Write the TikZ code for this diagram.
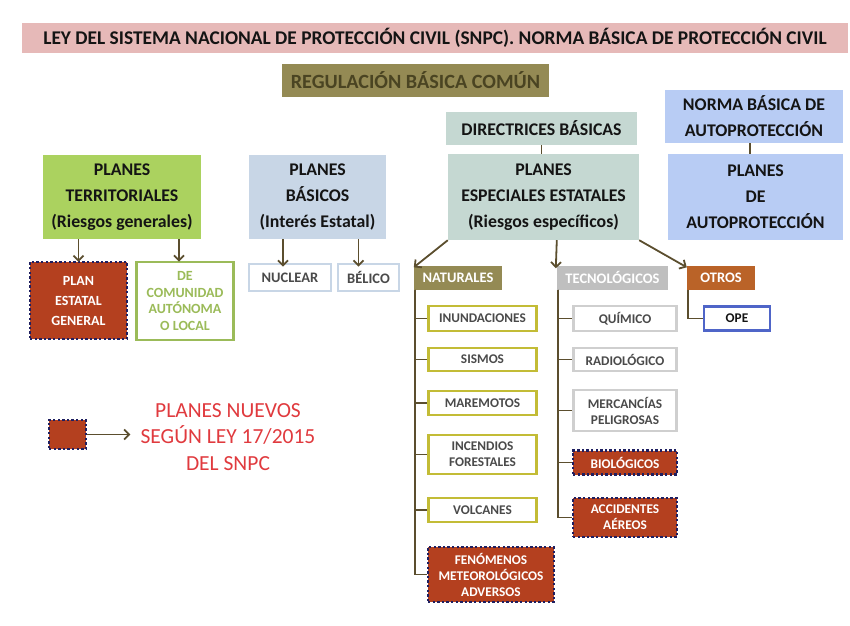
\documentclass[tikz,border=0pt]{standalone}
\usepackage{fontspec}
\setmainfont{Carlito}
\usetikzlibrary{arrows.meta}
\definecolor{titlefill}{HTML}{E6B9B8}
\definecolor{olivefill}{HTML}{948A54}
\definecolor{regtext}{HTML}{4A4422}
\definecolor{normafill}{HTML}{B8CCF4}
\definecolor{direcfill}{HTML}{C5D8D2}
\definecolor{terrfill}{HTML}{ABD25F}
\definecolor{basicfill}{HTML}{C8D6E6}
\definecolor{comgreen}{HTML}{9BBB59}
\definecolor{tecfill}{HTML}{BFBFBF}
\definecolor{otrosfill}{HTML}{BA6328}
\definecolor{natborder}{HTML}{C3BC36}
\definecolor{tecborder}{HTML}{CFCFCF}
\definecolor{opeborder}{HTML}{4F65C8}
\definecolor{linecol}{HTML}{5B4E2E}
\definecolor{newred}{HTML}{B4401F}
\definecolor{navydot}{HTML}{1F1F60}
\definecolor{legred}{HTML}{E03A3E}
\definecolor{darktext}{HTML}{141414}
\definecolor{greytext}{HTML}{4A4A4A}
\begin{document}
\begin{tikzpicture}[x=1pt,y=-1pt,
  box/.style={rectangle, inner sep=0pt, align=center},
  bigtext/.style={font=\fontsize{17.8}{26}\selectfont\bfseries, text=darktext},
  midtext/.style={font=\fontsize{14.5}{20}\selectfont\bfseries},
  smalltext/.style={font=\fontsize{13.3}{16}\selectfont\bfseries},
  newplan/.style={box, fill=newred, draw=navydot, line width=2.4pt,
     dash pattern=on 2.4pt off 2.2pt, text=white},
  natleaf/.style={box, fill=white, draw=natborder, line width=2.6pt,
     minimum width=108pt, text=greytext, smalltext},
  tecleaf/.style={box, fill=white, draw=tecborder, line width=2.6pt,
     minimum width=103pt, text=greytext, smalltext},
  arr/.style={draw=linecol, line width=1.8pt, -{Straight Barb[length=5pt,width=10pt]}},
  treeline/.style={draw=linecol, line width=1.8pt}
]
\useasboundingbox (0,0) rectangle (850,625);

% title and top
\node[box, fill=titlefill, minimum width=826pt, minimum height=30pt,
  font=\fontsize{19.4}{22}\selectfont\bfseries, text=darktext] (title) at (435,38)
  {LEY DEL SISTEMA NACIONAL DE PROTECCIÓN CIVIL (SNPC). NORMA BÁSICA DE PROTECCIÓN CIVIL};
\node[box, fill=olivefill, minimum width=267pt, minimum height=33pt,
  font=\fontsize{20.2}{22}\selectfont\bfseries, text=regtext] (reg) at (415.5,80.5)
  {REGULACIÓN BÁSICA COMÚN};

% right column
\node[box, fill=normafill, minimum width=178pt, minimum height=53pt, bigtext] (norma) at (754,116.5)
  {NORMA BÁSICA DE\\AUTOPROTECCIÓN};
\node[box, fill=normafill, minimum width=175pt, minimum height=86pt, bigtext] (autop) at (755.5,197)
  {PLANES\\DE\\AUTOPROTECCIÓN};
\draw[treeline] ([xshift=-4pt]norma.south) -- ([xshift=-4pt]norma.south |- autop.north);

% central column
\node[box, fill=direcfill, minimum width=191pt, minimum height=33pt, bigtext] (direc) at (541.5,128.5)
  {DIRECTRICES BÁSICAS};
\node[box, fill=direcfill, minimum width=191pt, minimum height=86pt, bigtext] (pee) at (543.5,197)
  {PLANES\\ESPECIALES ESTATALES\\(Riesgos específicos)};
\draw[treeline] (direc.south) -- (direc.south |- pee.north);

% left columns
\node[box, fill=terrfill, minimum width=158pt, minimum height=84pt, bigtext] (terr) at (122,197)
  {PLANES\\TERRITORIALES\\(Riesgos generales)};
\node[box, fill=basicfill, minimum width=137pt, minimum height=84pt, bigtext] (basic) at (317.5,197)
  {PLANES\\BÁSICOS\\(Interés Estatal)};

\node[newplan, minimum width=97pt, minimum height=77pt,
  font=\fontsize{14}{20}\selectfont\bfseries] (estatal) at (78.5,300.5)
  {PLAN\\ESTATAL\\GENERAL};
\node[box, fill=white, draw=comgreen, line width=2.8pt, minimum width=97pt, minimum height=78pt,
  font=\fontsize{14}{16.7}\selectfont\bfseries, text=comgreen] (comun) at (185,301)
  {DE\\COMUNIDAD\\AUTÓNOMA\\O LOCAL};
\node[box, fill=white, draw=basicfill, line width=2.8pt, minimum width=82pt, minimum height=27pt,
  midtext, text=greytext] (nuclear) at (290,277.5) {NUCLEAR};
\node[box, fill=white, draw=basicfill, line width=2.8pt, minimum width=61pt, minimum height=27pt,
  midtext, text=greytext] (belico) at (368.5,277.5) {BÉLICO};

\draw[arr] (terr.south -| estatal.north) -- ([yshift=-1pt]estatal.north);
\draw[arr] ([xshift=-6pt]terr.south -| comun.north) -- ([xshift=-6pt,yshift=-1pt]comun.north);
\draw[arr] ([xshift=-7pt]basic.south -| nuclear.north) -- ([xshift=-7pt,yshift=-4pt]nuclear.north);
\draw[arr] ([xshift=-10pt]basic.south -| belico.north) -- ([xshift=-10pt,yshift=-4pt]belico.north);

% categories
\node[box, fill=olivefill, minimum width=88pt, minimum height=24pt, midtext, text=white] (nat) at (458,277.5) {NATURALES};
\node[box, fill=tecfill, minimum width=111pt, minimum height=24pt, midtext, text=white] (tec) at (612.5,277.5) {TECNOLÓGICOS};
\node[box, fill=otrosfill, minimum width=68pt, minimum height=24pt, midtext, text=white] (otros) at (721,277.5) {OTROS};

\draw[arr] (pee.south west) -- ([yshift=-2pt]nat.north west);
\draw[arr] (pee.south -| tec.north west) -- ([xshift=-1pt,yshift=-3pt]tec.north west);
\draw[arr] (pee.south east) -- ([yshift=-2pt]otros.north west);

% natural leaves
\node[natleaf, minimum height=25pt] (inun) at (482.5,318.5) {INUNDACIONES};
\node[natleaf, minimum height=23pt] (sismos) at (482.5,359.5) {SISMOS};
\node[natleaf, minimum height=24pt] (mare) at (482.5,403) {MAREMOTOS};
\node[natleaf, minimum height=39pt] (incen) at (482.5,454.5) {INCENDIOS\\FORESTALES};
\node[natleaf, minimum height=24pt] (volc) at (482.5,510) {VOLCANES};
\node[newplan, minimum width=126pt, minimum height=55pt, smalltext] (fen) at (491,574.5)
  {FENÓMENOS\\METEOROLÓGICOS\\ADVERSOS};
\foreach \n in {inun,sismos,mare,incen,volc,fen}
  \draw[treeline] ([xshift=1.5pt]nat.south west) |- (\n.west);

% tech leaves
\node[tecleaf, minimum height=25pt] (quim) at (625,318.5) {QUÍMICO};
\node[tecleaf, minimum height=23pt] (radio) at (625,359.5) {RADIOLÓGICO};
\node[tecleaf, minimum height=41pt] (merc) at (625,410.5) {MERCANCÍAS\\PELIGROSAS};
\node[newplan, minimum width=104pt, minimum height=24pt, smalltext] (bio) at (625,462.5) {BIOLÓGICOS};
\node[newplan, minimum width=104pt, minimum height=39pt, smalltext] (acc) at (625,517.5) {ACCIDENTES\\AÉREOS};
\foreach \n in {quim,radio,merc,bio,acc}
  \draw[treeline] ([xshift=1pt]tec.south west) |- (\n.west);

% otros
\node[box, fill=white, draw=opeborder, line width=2.2pt, minimum width=66pt, minimum height=24pt,
  smalltext, text=darktext] (ope) at (737,318.5) {OPE};
\draw[treeline] ([xshift=1.5pt]otros.south west) |- (ope.west);

% legend
\node[newplan, minimum width=37pt, minimum height=29pt] (leg) at (67.5,434.5) {};
\node[box, font=\fontsize{21.5}{26.5}\selectfont, text=legred] (legt) at (228,437)
  {PLANES NUEVOS\\SEGÚN LEY 17/2015\\DEL SNPC};
\draw[arr] (leg.east) -- ([xshift=-10pt]legt.west |- leg.east);
\end{tikzpicture}
\end{document}
